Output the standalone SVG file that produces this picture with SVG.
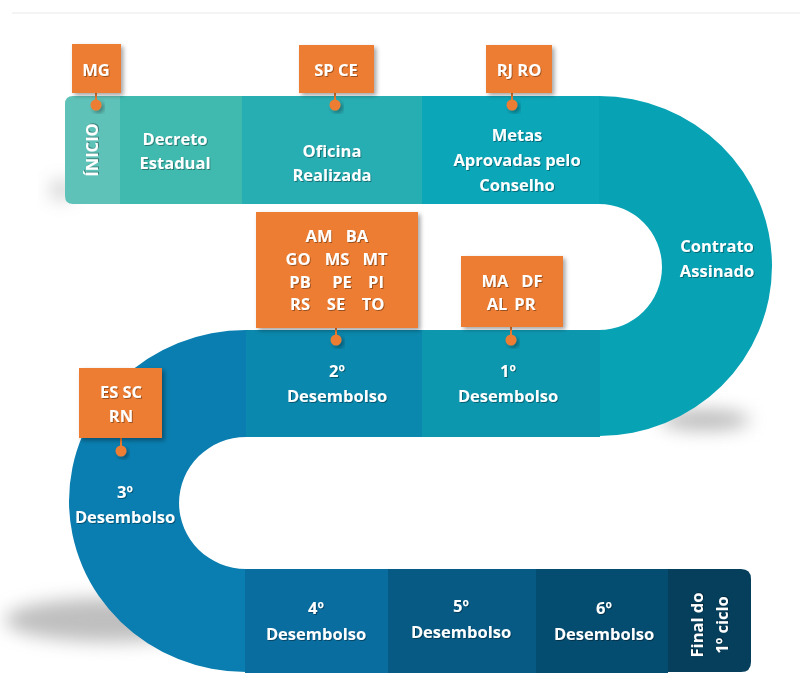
<svg xmlns="http://www.w3.org/2000/svg" width="804" height="673" viewBox="0 0 804 673">
  <defs>
    <filter id="txtShadow" x="-10%" y="-20%" width="130%" height="150%">
      <feDropShadow dx="1" dy="1" stdDeviation="0.7" flood-color="#000" flood-opacity="0.35"/>
    </filter>
    <filter id="boxShadow" x="-20%" y="-20%" width="150%" height="150%">
      <feDropShadow dx="2.5" dy="2.5" stdDeviation="2" flood-color="#000" flood-opacity="0.35"/>
    </filter>
    <filter id="softBlur" x="-50%" y="-100%" width="200%" height="300%">
      <feGaussianBlur stdDeviation="9"/>
    </filter>
  </defs>
  <style>
    .lbl { font-family: "Open Sans", "Liberation Sans", sans-serif; font-weight: bold; font-size: 16.5px; fill: #ffffff; text-anchor: middle; filter: url(#txtShadow); }
    .tag { fill: #ed7d31; filter: url(#boxShadow); }
    .pin { stroke: #ed7d31; stroke-width: 2; fill: none; }
    .dot { fill: #ed7d31; filter: url(#boxShadow); }
  </style>

  <rect width="804" height="673" fill="#ffffff"/>
  <line x1="12" y1="13" x2="800" y2="13" stroke="#f1f1f1" stroke-width="1.5"/>

  <!-- soft ground shadows -->
  <g id="shadows" fill="#8a8a8a">
    <ellipse cx="110" cy="620" rx="105" ry="22" filter="url(#softBlur)" opacity="0.55"/>
    <ellipse cx="705" cy="420" rx="45" ry="10" filter="url(#softBlur)" opacity="0.6"/>
    <ellipse cx="62" cy="190" rx="12" ry="10" filter="url(#softBlur)" opacity="0.4"/>
  </g>

  <!-- road segments -->
  <g id="inicio">
    <path d="M120,96 H73 Q65,96 65,104 V196 Q65,204 73,204 H120 Z" fill="#5fc2b8"/>
    <text class="lbl" transform="translate(98,150) rotate(-90)">ÍNICIO</text>
  </g>
  <g id="decreto">
    <rect x="120" y="96" width="122" height="108" fill="#40b9af"/>
    <text class="lbl" x="175" y="145">Decreto</text>
    <text class="lbl" x="175" y="169">Estadual</text>
  </g>
  <g id="oficina">
    <rect x="242" y="96" width="180" height="108" fill="#27aeb3"/>
    <text class="lbl" x="332" y="157">Oficina</text>
    <text class="lbl" x="332" y="181">Realizada</text>
  </g>
  <g id="metas">
    <rect x="422" y="96" width="178" height="108" fill="#0ca6b9"/>
    <text class="lbl" x="517" y="141">Metas</text>
    <text class="lbl" x="517" y="166">Aprovadas pelo</text>
    <text class="lbl" x="517" y="191">Conselho</text>
  </g>
  <g id="contrato">
    <path d="M599,96 A173,170 0 0 1 599,436 V330 A63,63 0 0 0 599,204 Z" fill="#07a3b5"/>
    <text class="lbl" x="717" y="252">Contrato</text>
    <text class="lbl" x="717" y="277">Assinado</text>
  </g>
  <g id="desembolso1">
    <rect x="422" y="330" width="178" height="107" fill="#0d97af"/>
    <text class="lbl" x="508" y="377">1º</text>
    <text class="lbl" x="508" y="402">Desembolso</text>
  </g>
  <g id="desembolso2">
    <rect x="245" y="330" width="177" height="107" fill="#0b88ad"/>
    <text class="lbl" x="337" y="377">2º</text>
    <text class="lbl" x="337" y="402">Desembolso</text>
  </g>
  <g id="desembolso3">
    <path d="M246,330 A177,171 0 0 0 246,672 V569 A67,66 0 0 1 246,437 Z" fill="#0a7eb0"/>
    <text class="lbl" x="125" y="498">3º</text>
    <text class="lbl" x="125" y="523">Desembolso</text>
  </g>
  <g id="desembolso4">
    <rect x="245" y="569" width="143" height="104" fill="#0a6d9f"/>
    <text class="lbl" x="316" y="614">4º</text>
    <text class="lbl" x="316" y="640">Desembolso</text>
  </g>
  <g id="desembolso5">
    <rect x="388" y="569" width="148" height="104" fill="#065a84"/>
    <text class="lbl" x="461" y="612">5º</text>
    <text class="lbl" x="461" y="638">Desembolso</text>
  </g>
  <g id="desembolso6">
    <rect x="536" y="569" width="132" height="104" fill="#054d70"/>
    <text class="lbl" x="604" y="614">6º</text>
    <text class="lbl" x="604" y="640">Desembolso</text>
  </g>
  <g id="final">
    <path d="M668,569 H741 Q751,569 751,579 V662 Q751,672 741,672 H668 Z" fill="#053f5c"/>
    <text class="lbl" transform="translate(703,625) rotate(-90)">Final do</text>
    <text class="lbl" transform="translate(728,625) rotate(-90)">1º ciclo</text>
  </g>

  <!-- pins linking tags to the road -->
  <g id="connectors">
    <line class="pin" x1="96" y1="93" x2="96" y2="104"/>
    <circle class="dot" cx="96" cy="105" r="5.5"/>
    <line class="pin" x1="335" y1="93" x2="335" y2="104"/>
    <circle class="dot" cx="335" cy="105" r="5.5"/>
    <line class="pin" x1="512" y1="93" x2="512" y2="104"/>
    <circle class="dot" cx="512" cy="105" r="5.5"/>
    <line class="pin" x1="336" y1="328" x2="336" y2="339"/>
    <circle class="dot" cx="336" cy="340" r="5.5"/>
    <line class="pin" x1="511" y1="327" x2="511" y2="339"/>
    <circle class="dot" cx="511" cy="340" r="5.5"/>
    <line class="pin" x1="121" y1="438" x2="121" y2="450"/>
    <circle class="dot" cx="121" cy="451" r="5.5"/>
  </g>

  <!-- state tags -->
  <g id="tag-mg">
    <rect class="tag" x="72" y="44" width="49" height="49"/>
    <text class="lbl" x="96" y="76">MG</text>
  </g>
  <g id="tag-spce">
    <rect class="tag" x="299" y="45" width="75" height="48"/>
    <text class="lbl" x="336" y="76">SP CE</text>
  </g>
  <g id="tag-rjro">
    <rect class="tag" x="486" y="45" width="66" height="48"/>
    <text class="lbl" x="519" y="76">RJ RO</text>
  </g>
  <g id="tag-2">
    <rect class="tag" x="256" y="212" width="162" height="116"/>
    <text class="lbl" x="319" y="242">AM</text>
    <text class="lbl" x="357" y="242">BA</text>
    <text class="lbl" x="298" y="265">GO</text>
    <text class="lbl" x="337" y="265">MS</text>
    <text class="lbl" x="375" y="265">MT</text>
    <text class="lbl" x="300" y="288">PB</text>
    <text class="lbl" x="342" y="288">PE</text>
    <text class="lbl" x="376" y="288">PI</text>
    <text class="lbl" x="300" y="310">RS</text>
    <text class="lbl" x="336" y="310">SE</text>
    <text class="lbl" x="373" y="310">TO</text>
  </g>
  <g id="tag-1">
    <rect class="tag" x="461" y="256" width="102" height="71"/>
    <text class="lbl" x="495" y="287">MA</text>
    <text class="lbl" x="532" y="287">DF</text>
    <text class="lbl" x="497" y="310">AL</text>
    <text class="lbl" x="525" y="310">PR</text>
  </g>
  <g id="tag-3">
    <rect class="tag" x="79" y="368" width="83" height="70"/>
    <text class="lbl" x="121" y="398">ES SC</text>
    <text class="lbl" x="121" y="422">RN</text>
  </g>
</svg>
